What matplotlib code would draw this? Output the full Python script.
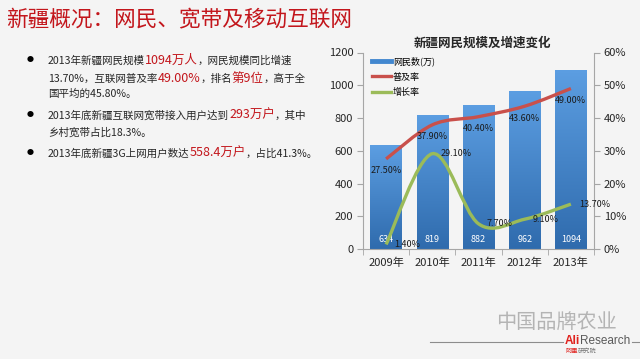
import numpy as np
import matplotlib.pyplot as plt
from matplotlib.path import Path
from matplotlib.patches import PathPatch
from matplotlib.lines import Line2D
from matplotlib.colors import LinearSegmentedColormap

plt.rcParams['font.family'] = ['Noto Sans CJK SC', 'DejaVu Sans']

# -------------------------------
# Data
# -------------------------------
years = ['2009年', '2010年', '2011年', '2012年', '2013年']
users = [634, 819, 882, 962, 1094]              # 网民数(万)
penetration = [27.5, 37.9, 40.4, 43.6, 49.0]    # 普及率 (%)
growth = [1.4, 29.1, 7.7, 9.1, 13.7]            # 增长率 (%)

page_title = '新疆概况：网民、宽带及移动互联网'
chart_title = '新疆网民规模及增速变化'
legend_labels = ['网民数(万)', '普及率', '增长率']

# bullet lines: (starts with bullet, [(text, highlighted), ...])
bullet_lines = [
    (True, [('2013年新疆网民规模', 0), ('1094万人', 1), ('，网民规模同比增速', 0)]),
    (False, [('13.70%，互联网普及率', 0), ('49.00%', 1), ('，排名', 0), ('第9位', 1), ('，高于全', 0)]),
    (False, [('国平均的45.80%。', 0)]),
    (True, [('2013年底新疆互联网宽带接入用户达到', 0), ('293万户', 1), ('，其中', 0)]),
    (False, [('乡村宽带占比18.3%。', 0)]),
    (True, [('2013年底新疆3G上网用户数达', 0), ('558.4万户', 1), ('，占比41.3%。', 0)]),
]
line_y = [60, 77.5, 92.5, 114.5, 131.5, 153]

# -------------------------------
# Style
# -------------------------------
W, H = 640, 359
BG = '#f4f4f4'
RED_TXT = '#c3161c'
BLUE = '#4287cf'
RED = '#c9504b'
GREEN = '#9bbb59'
AXIS = '#a6a6a6'
TXT = '#262626'


def fx(x):
    return x / W


def fy(y):
    return 1 - y / H


def smooth_path(xs, ys):
    # Excel-like smoothed line: cubic bezier through every point
    pts = np.column_stack([xs, ys]).astype(float)
    n = len(pts)
    verts = [pts[0]]
    codes = [Path.MOVETO]
    for i in range(n - 1):
        p0 = pts[max(i - 1, 0)]
        p1 = pts[i]
        p2 = pts[i + 1]
        p3 = pts[min(i + 2, n - 1)]
        verts += [p1 + (p2 - p0) / 6, p2 - (p3 - p1) / 6, p2]
        codes += [Path.CURVE4] * 3
    return Path(verts, codes)


fig = plt.figure(figsize=(6.4, 3.59), dpi=100, facecolor=BG)
renderer = fig.canvas.get_renderer()

# -------------------------------
# Left text block
# -------------------------------
fig.text(fx(6), fy(20), page_title, fontsize=15.6, color=RED_TXT, va='center', ha='left')

for (bullet, segs), y in zip(bullet_lines, line_y):
    if bullet:
        fig.text(fx(30), fy(y), '●', fontsize=5, color='black', va='center', ha='center')
    x = fx(48)
    for s, hi in segs:
        t = fig.text(x, fy(y + 4), s, fontsize=9 if hi else 7.6,
                     color=RED_TXT if hi else TXT, va='baseline', ha='left')
        x = t.get_window_extent(renderer).x1 / W

# -------------------------------
# Chart
# -------------------------------
ax = fig.add_axes([fx(363), fy(249), (594 - 363) / W, (249 - 52.5) / H])
ax.set_facecolor('none')
xpos = np.arange(len(years))

bars = ax.bar(xpos, users, width=0.68, color=BLUE, zorder=2)
cmap = LinearSegmentedColormap.from_list('bar', ['#2f6bad', '#5c9ee2'])
grad = np.linspace(0, 1, 256).reshape(-1, 1)
for b in bars:
    x0 = b.get_x()
    im = ax.imshow(grad, extent=[x0, x0 + b.get_width(), 0, b.get_height()],
                   origin='lower', cmap=cmap, aspect='auto', zorder=2)
    im.set_clip_path(b)

for xi, v in zip(xpos, users):
    ax.annotate(str(v), (xi, 0), xytext=(0, 10), textcoords='offset pixels',
                ha='center', va='center', fontsize=6.5, color='white', zorder=4)

ax.set_xlim(-0.5, len(years) - 0.5)
ax.set_ylim(0, 1200)
ax.set_yticks(range(0, 1201, 200))
ax.set_xticks(xpos)
ax.set_xticklabels(years)
ax.set_xticks(np.arange(-0.5, len(years)), minor=True)
ax.tick_params(axis='x', which='major', length=0, pad=6, labelsize=8, colors=TXT)
ax.tick_params(axis='x', which='minor', length=4, color=AXIS)
ax.tick_params(axis='y', length=4, color=AXIS, labelsize=8, labelcolor=TXT, pad=3)
for side in ['top', 'right']:
    ax.spines[side].set_visible(False)
for side in ['left', 'bottom']:
    ax.spines[side].set_color(AXIS)

ax2 = ax.twinx()
ax2.set_ylim(0, 60)
ax2.set_yticks(range(0, 61, 10))
ax2.set_yticklabels([f'{v}%' for v in range(0, 61, 10)])
ax2.tick_params(axis='y', length=4, color=AXIS, labelsize=8, labelcolor=TXT, pad=3)
for side in ['top', 'left', 'bottom']:
    ax2.spines[side].set_visible(False)
ax2.spines['right'].set_color(AXIS)

ax2.add_patch(PathPatch(smooth_path(xpos, penetration), fill=False, edgecolor=RED,
                        lw=2.4, capstyle='butt', zorder=3))
ax2.add_patch(PathPatch(smooth_path(xpos, growth), fill=False, edgecolor=GREEN,
                        lw=2.4, capstyle='butt', zorder=3))

for xi, v in zip(xpos, penetration):
    ax2.annotate(f'{v:.2f}%', (xi, v), xytext=(0, -12), textcoords='offset pixels',
                 ha='center', va='center', fontsize=6.5, color='#1a1a1a', zorder=5)
for xi, v in zip(xpos, growth):
    ax2.annotate(f'{v:.2f}%', (xi, v), xytext=(8, 0), textcoords='offset pixels',
                 ha='left', va='center', fontsize=6.5, color='#1a1a1a', zorder=5)

handles = [Line2D([], [], color=BLUE, lw=3.5),
           Line2D([], [], color=RED, lw=2.4),
           Line2D([], [], color=GREEN, lw=2.4)]
ax2.legend(handles, legend_labels, loc='upper left', bbox_to_anchor=(fx(372), fy(56)),
           bbox_transform=fig.transFigure, frameon=False, fontsize=6.5,
           handlelength=2.1, handletextpad=0.2, labelspacing=0.75,
           borderpad=0, borderaxespad=0)

fig.text(fx(482), fy(43), chart_title, fontsize=9, fontweight='bold',
         color=TXT, ha='center', va='center')

# -------------------------------
# Footer
# -------------------------------
fig.text(fx(556), fy(323), '中国品牌农业', fontsize=14.5, color='#b4b4b4',
         ha='center', va='center')
fig.add_artist(Line2D([fx(430), fx(563)], [fy(342), fy(342)], color='#8c8c8c',
                      lw=0.8, transform=fig.transFigure))
fig.add_artist(Line2D([fx(632), fx(640)], [fy(342), fy(342)], color='#8c8c8c',
                      lw=0.8, transform=fig.transFigure))
t = fig.text(fx(565), fy(344), 'Ali', fontsize=8.5, fontweight='bold', color='#e0201b',
             family='Liberation Sans', ha='left', va='baseline')
fig.text(t.get_window_extent(renderer).x1 / W, fy(344), 'Research', fontsize=8.5,
         color='#5a5a5a', family='Liberation Sans', ha='left', va='baseline')
t = fig.text(fx(565), fy(351), '阿里', fontsize=4.5, color='#e0201b', ha='left', va='center')
fig.text(t.get_window_extent(renderer).x1 / W, fy(351), '研究院', fontsize=4.5,
         color='#777777', ha='left', va='center')

plt.savefig('out.png', dpi=100, facecolor=BG)
